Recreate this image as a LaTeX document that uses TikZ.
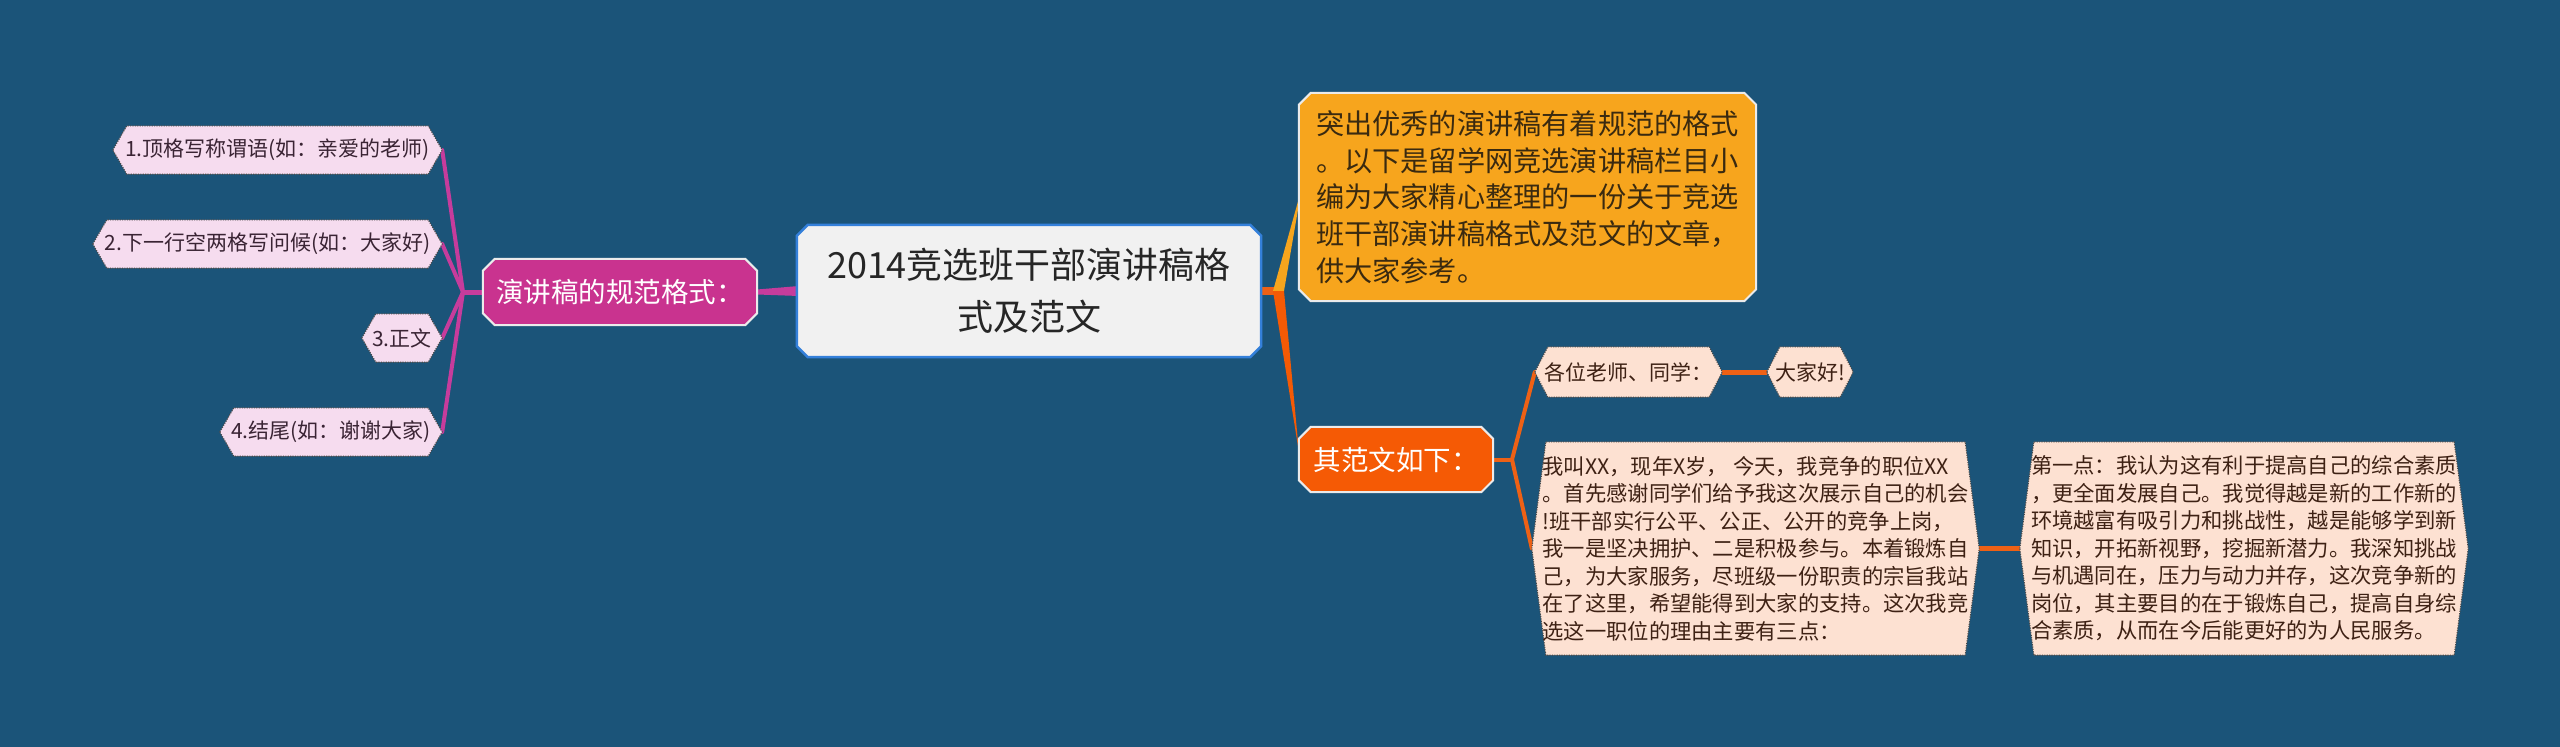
\documentclass[tikz,border=0pt]{standalone}
\usepackage{fontspec}
\setmainfont{Noto Sans CJK SC}
\usetikzlibrary{calc}
\pgfdeclarelayer{bg}
\pgfdeclarelayer{conn}
\pgfdeclarelayer{background}
\pgfsetlayers{bg,conn,background,main}
\definecolor{bgc}{HTML}{1B5479}
\definecolor{magfill}{HTML}{C9338F}
\definecolor{magline}{HTML}{C63C9C}
\definecolor{pinkfill}{HTML}{F6DCEF}
\definecolor{pinktext}{HTML}{3A2434}
\definecolor{rootfill}{HTML}{F1F1F1}
\definecolor{rootborder}{HTML}{3480DA}
\definecolor{roottext}{HTML}{262626}
\definecolor{orfill}{HTML}{F7A51D}
\definecolor{ortext}{HTML}{3A2A10}
\definecolor{redfill}{HTML}{F55A05}
\definecolor{redline}{HTML}{EE6115}
\definecolor{peachfill}{HTML}{FDE1D2}
\definecolor{peachtext}{HTML}{3E2114}
\definecolor{dotc}{HTML}{4A4A4A}
\newcommand{\octshape}[3]{%
  \begin{pgfonlayer}{background}
  \path[#3] ($(#1.north west)+(#2,0)$) -- ($(#1.north east)+(-#2,0)$) -- ($(#1.north east)+(0,#2)$) -- ($(#1.south east)+(0,-#2)$) -- ($(#1.south east)+(-#2,0)$) -- ($(#1.south west)+(#2,0)$) -- ($(#1.south west)+(0,-#2)$) -- ($(#1.north west)+(0,#2)$) -- cycle;
  \end{pgfonlayer}}
\newcommand{\hexshape}[3]{%
  \begin{pgfonlayer}{background}
  \path[#3] (#1.west) -- ($(#1.north west)+(#2,0)$) -- ($(#1.north east)+(-#2,0)$) -- (#1.east) -- ($(#1.south east)+(-#2,0)$) -- ($(#1.south west)+(#2,0)$) -- cycle;
  \end{pgfonlayer}}
\tikzset{
  box/.style={rectangle, inner sep=0pt, align=center},
  pinkbox/.style={box, minimum height=48, text=pinktext, font=\fontsize{21}{26}\selectfont},
  peachbox/.style={box, text=peachtext},
  dotborder/.style={draw=dotc, line width=1.1pt, dash pattern=on 1.2pt off 1.2pt},
  whiteborder/.style={draw=white!92!black, line width=2pt},
  magl/.style={draw=magline, line width=4pt},
  redl/.style={draw=redline, line width=4pt},
}
\begin{document}
\begin{tikzpicture}[x=1pt,y=-1pt]
\begin{pgfonlayer}{bg}
\fill[bgc] (0,0) rectangle (2560,747);
\end{pgfonlayer}
\useasboundingbox (0,0) rectangle (2560,747);

% root
\node[box, minimum width=464, minimum height=132, text=roottext, font=\fontsize{36}{52}\selectfont] (root) at (1029,291) {2014竞选班干部演讲稿格\\式及范文};
\octshape{root}{11}{fill=rootfill, draw=rootborder, line width=2.5pt}

% left branch
\node[box, minimum width=274, minimum height=66, text=white, font=\fontsize{27.5}{32}\selectfont] (fmt) at (620,292) {演讲稿的规范格式：};
\octshape{fmt}{12}{fill=magfill, whiteborder}

\node[pinkbox, minimum width=329] (n1) at (277.5,150) {1.顶格写称谓语(如：亲爱的老师)};
\node[pinkbox, minimum width=349] (n2) at (267.5,244) {2.下一行空两格写问候(如：大家好)};
\node[pinkbox, minimum width=80] (n3) at (402,338) {3.正文};
\node[pinkbox, minimum width=222] (n4) at (331,432) {4.结尾(如：谢谢大家)};
\foreach \n in {n1,n2,n3,n4} {\hexshape{\n}{14}{fill=pinkfill, dotborder}}

% right branch
\node[box, minimum width=457, minimum height=208, text=ortext, align=left, font=\fontsize{28.2}{36.7}\selectfont] (intro) at (1527.5,197) {突出优秀的演讲稿有着规范的格式\\。以下是留学网竞选演讲稿栏目小\\编为大家精心整理的一份关于竞选\\班干部演讲稿格式及范文的文章，\\供大家参考。};
\octshape{intro}{12}{fill=orfill, whiteborder}

\node[box, minimum width=194, minimum height=65, text=white, font=\fontsize{27.5}{32}\selectfont] (ex) at (1396,459.5) {其范文如下：};
\octshape{ex}{12}{fill=redfill, whiteborder}

\node[box, minimum width=187, minimum height=50, text=peachtext, font=\fontsize{21}{26}\selectfont] (greet) at (1628.5,372) {各位老师、同学：};
\hexshape{greet}{13}{fill=peachfill, dotborder}
\node[box, minimum width=86, minimum height=50, text=peachtext, font=\fontsize{21}{26}\selectfont] (hello) at (1810,372) {大家好!};
\hexshape{hello}{13}{fill=peachfill, dotborder}

\node[peachbox, minimum width=447, minimum height=213, align=left, font=\fontsize{21.3}{27.5}\selectfont] (me) at (1755.5,548.5) {我叫XX，现年X岁， 今天，我竞争的职位XX\\。首先感谢同学们给予我这次展示自己的机会\\!班干部实行公平、公正、公开的竞争上岗，\\我一是坚决拥护、二是积极参与。本着锻炼自\\己，为大家服务，尽班级一份职责的宗旨我站\\在了这里，希望能得到大家的支持。这次我竞\\选这一职位的理由主要有三点：};
\hexshape{me}{14}{fill=peachfill, dotborder}

\node[peachbox, minimum width=448, minimum height=213, align=left, font=\fontsize{21.3}{27.5}\selectfont] (first) at (2244,548.5) {第一点：我认为这有利于提高自己的综合素质\\，更全面发展自己。我觉得越是新的工作新的\\环境越富有吸引力和挑战性，越是能够学到新\\知识，开拓新视野，挖掘新潜力。我深知挑战\\与机遇同在，压力与动力并存，这次竞争新的\\岗位，其主要目的在于锻炼自己，提高自身综\\合素质，从而在今后能更好的为人民服务。};
\hexshape{first}{14}{fill=peachfill, dotborder}

% junctions
\coordinate (jl) at (463,292);
\coordinate (jr) at (1279,291);
\coordinate (jx) at (1512,459.5);

% connectors
\begin{pgfonlayer}{conn}
\fill[magline] ($(root.west)+(2,-5)$) -- ($(root.west)+(2,5)$) -- ($(fmt.east)+(0,2.5)$) -- ($(fmt.east)+(0,-2.5)$) -- cycle;
\draw[magline, line width=5pt] (fmt.west) -- (jl);
\foreach \n in {n1,n2,n3,n4} {\draw[magl, line cap=round] (jl) -- (\n.east);}
\draw[redline, line width=8pt] ($(root.east)+(-2,0)$) -- ($(jr)+(2,0)$);
\fill[orfill] ($(jr)+(-6,0)$) -- ($(jr)+(5,0)$) -- ($(intro.west)+(1,2)$) -- ($(intro.west)+(1,-2)$) -- cycle;
\fill[redfill] ($(jr)+(-6,0)$) -- ($(jr)+(5,0)$) -- ($(ex.west)+(1,2)$) -- ($(ex.west)+(1,-2)$) -- cycle;
\draw[redl] (ex.east) -- (jx);
\draw[redl, line cap=round] (jx) -- (greet.west);
\draw[redl, line cap=round] (jx) -- (me.west);
\draw[redline, line width=5pt] (greet.east) -- (hello.west);
\draw[redline, line width=5pt] (me.east) -- (first.west);
\end{pgfonlayer}
\end{tikzpicture}
\end{document}
